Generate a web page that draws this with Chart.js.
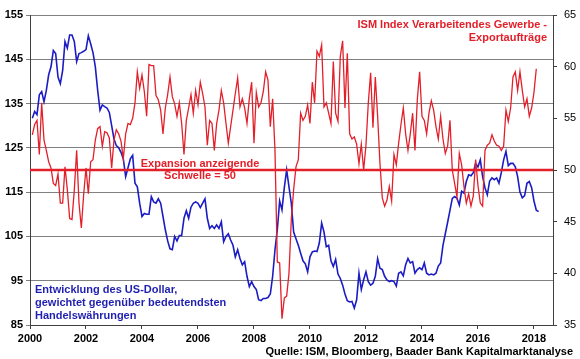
<!DOCTYPE html>
<html>
<head>
<meta charset="utf-8">
<script src="https://cdn.jsdelivr.net/npm/chart.js@4/dist/chart.umd.min.js"></script>
<style>
  html, body { margin: 0; padding: 0; background: #ffffff; }
  #wrap { width: 580px; height: 359px; position: relative; }
</style>
</head>
<body>
<div id="wrap"><canvas id="c" width="580" height="359"></canvas></div>
<script>
// ---- data (monthly, first point = Feb 2000) ----
const startYear = 2000;
const startMonth = 1; // 0 = Jan, 1 = Feb

// US-Dollar index (left axis)
const usdIndex = [
  131.7,133.2,132.5,137,137.7,135.4,138,141.5,143.3,147,146.3,
  141,139.5,142.5,149,147.5,150.5,150.5,149,144.5,146.3,146.5,146.8,
  147.2,150.3,148.5,146.5,143.3,138,133.5,134.7,134.3,134,133,130,
  127,125.5,125,124,122.5,118.5,120.5,122.5,123.3,117,116.2,112.5,
  109.5,110.2,110,110,114,112.8,112.5,113.5,112.5,109.5,106.5,104,
  102.2,102,105,104,105.2,105.2,109.1,110.8,109.1,111.6,112.5,112.8,
  112.5,111.5,112.5,113.5,109.1,106.8,107.4,106.8,107.6,106.8,108.3,103.8,
  105,105.6,104.2,103,100.4,102,100,98.6,99.3,96,93.7,94.8,
  93.7,93,90.7,90.5,91,91,91.2,92,96,102,106.5,113,
  111,116,120,116.2,112.5,106,104.5,103,101.2,99.5,98.8,97,
  100.4,101.5,101.7,101.6,103.5,108,106,102.7,103,99.5,98.2,99.8,
  96.5,95.5,94,92,90.5,90.2,90.3,88.8,90.7,96.7,93,95.2,
  97,94.8,94,94.4,96,100,97.8,97.5,96,95.2,94.8,95,
  94.8,93.8,96.7,97,96.1,98.6,100,99,99.3,96.7,97.5,97.9,
  97.5,99,96.7,96.3,96.5,96.3,96.7,98.3,99,103,105.6,108.2,
  110.9,113.6,114,113.6,112.1,115.2,114.8,117.4,118.9,118.7,119.4,121.5,
  120.7,122.3,118.5,116,114.4,117.5,118.2,117.8,118.2,117,119.4,122.3,
  124.2,121,121.5,121.5,120.7,118.5,115,113.7,114.2,117,117.4,116,
  113,110.9,110.6
];

// ISM manufacturing export orders (right axis)
const ismExport = [
  53.4,54.4,54.8,51.5,56.5,52.9,51.9,50.8,50.2,48.7,48.5,
  49.6,46.8,46.8,50.3,48.1,45.3,45.2,48.1,51.9,46.8,44.4,47.6,
  50.2,47.7,50.8,51,52.9,54,54.2,52.3,53.7,53.6,53.1,50.2,
  52.9,53.9,53.5,52.8,51.1,53.5,54.5,54.4,55,56.5,59.5,57.9,
  59.2,57.6,55.2,60.2,60.1,60.1,57.2,56.8,55.8,53.5,56,57.3,
  59,57.1,56.4,55.2,56.5,54.5,51.5,54.8,56,57.3,55.5,57.7,
  56.3,58.5,57.4,56.1,52.4,54.8,54.5,51.9,54.5,55.8,57.7,56.5,
  54.5,52.6,54.2,55.8,57.4,58.9,56.1,56.9,56,54.5,56.9,58.5,
  52.6,57.5,56.1,56.5,57.6,59.5,58.7,54.2,56.9,51.9,41.1,41,
  35.6,37.6,37.8,40,45.2,48.1,50.3,51,55.5,54.8,55.2,56.3,
  54.5,58.5,56.5,61.5,61,62.1,56.1,56.5,55.5,54.5,60.5,55.5,
  54.7,61,62.5,56,61.3,53.5,53,53.2,52.5,50.6,52.5,50,
  52.4,56.5,59.4,54.1,59,55.2,50.6,47.3,46.5,47.1,48.4,47,
  51.5,50.5,52.6,54.4,56,53.5,51.9,53.5,55.5,51.9,56.8,59.5,
  55.2,54.8,53.5,55.5,56.7,55.8,54.2,53,55.2,53,51.6,52.3,
  54.8,50,48.7,47.4,51.6,50.5,48.4,46.8,47.7,46.5,47.5,51,
  48.5,46.8,46.5,51.9,52.4,52.6,53.4,52.8,52.4,52.3,51.9,52.3,
  55.8,54.7,56,59,59.5,57.7,59.5,57.7,56.1,56.9,55.2,56,
  57.5,59.8
];

const threshold = 50;                 // ISM expansion threshold (right axis)
const xTickYears = [2000,2002,2004,2006,2008,2010,2012,2014,2016,2018];
const leftTicks = [85,95,105,115,125,135,145,155];
const rightTicks = [35,40,45,50,55,60,65];
const xMin = 2000, xMax = 2018.68;

const toPoints = arr => arr.map((v, k) => ({ x: startYear + (startMonth + k) / 12, y: v }));

const BLUE = '#1c1cc4';
const RED = '#e3202a';
const FONT = "'Liberation Sans', Arial, sans-serif";

const textPlugin = {
  id: 'texts',
  afterDraw(chart) {
    const ctx = chart.ctx;
    ctx.save();
    ctx.textBaseline = 'middle';
    ctx.font = "bold 11px " + FONT;
    ctx.fillStyle = RED;
    ctx.textAlign = 'right';
    ctx.fillText('ISM Index Verarbeitendes Gewerbe -', 547, 25, 196);
    ctx.fillText('Exportaufträge', 547, 38);
    ctx.textAlign = 'center';
    ctx.fillText('Expansion anzeigende', 200, 163.5, 126);
    ctx.fillText('Schwelle = 50', 200, 175.5, 76);
    ctx.fillStyle = '#1f1fb0';
    ctx.textAlign = 'left';
    ctx.fillText('Entwicklung des US-Dollar,', 35, 289.5, 150);
    ctx.fillText('gewichtet gegenüber bedeutendsten', 35, 303, 198);
    ctx.fillText('Handelswährungen', 35, 316, 106);
    ctx.fillStyle = '#000000';
    ctx.textAlign = 'right';
    ctx.fillText('Quelle: ISM, Bloomberg, Baader Bank Kapitalmarktanalyse', 573, 351.5, 318);
    ctx.restore();
  }
};

Chart.defaults.font.family = FONT;
Chart.defaults.color = '#000000';

new Chart(document.getElementById('c'), {
  type: 'line',
  data: {
    datasets: [
      {
        label: 'US-Dollar',
        data: toPoints(usdIndex),
        yAxisID: 'yL',
        borderColor: BLUE,
        borderWidth: 1.6,
        pointRadius: 0,
        tension: 0,
        order: 2
      },
      {
        label: 'ISM Export',
        data: toPoints(ismExport),
        yAxisID: 'yR',
        borderColor: RED,
        borderWidth: 1.3,
        pointRadius: 0,
        tension: 0,
        order: 1
      },
      {
        label: 'Schwelle',
        data: [{ x: xMin, y: threshold }, { x: xMax, y: threshold }],
        yAxisID: 'yR',
        borderColor: RED,
        borderWidth: 2.4,
        pointRadius: 0,
        order: 0
      }
    ]
  },
  options: {
    responsive: false,
    animation: false,
    layout: { padding: { top: 15, left: 0, right: 0, bottom: 0 } },
    plugins: { legend: { display: false }, tooltip: { enabled: false } },
    scales: {
      x: {
        type: 'linear',
        min: xMin,
        max: xMax,
        afterBuildTicks: s => { s.ticks = xTickYears.map(v => ({ value: v })); },
        afterFit: s => { s.height = 34; },
        ticks: {
          callback: v => String(v),
          font: { size: 11, weight: 'bold' },
          padding: 3,
          maxRotation: 0,
          autoSkip: false
        },
        grid: { drawOnChartArea: false, drawTicks: true, tickLength: 4, color: '#404040' },
        border: { display: true, color: '#404040', width: 1 }
      },
      yL: {
        position: 'left',
        min: 85,
        max: 155,
        afterBuildTicks: s => { s.ticks = leftTicks.map(v => ({ value: v })); },
        afterFit: s => { s.width = 30; },
        ticks: { font: { size: 11, weight: 'bold' }, padding: 3 },
        grid: { color: '#808080', lineWidth: 1, tickLength: 4 },
        border: { display: true, color: '#404040', width: 1 }
      },
      yR: {
        position: 'right',
        min: 35,
        max: 65,
        afterBuildTicks: s => { s.ticks = rightTicks.map(v => ({ value: v })); },
        afterFit: s => { s.width = 27; },
        ticks: { font: { size: 11 }, padding: 7 },
        grid: { drawOnChartArea: false, tickLength: 4, color: '#404040' },
        border: { display: true, color: '#404040', width: 1 }
      }
    }
  },
  plugins: [textPlugin]
});
</script>
</body>
</html>
